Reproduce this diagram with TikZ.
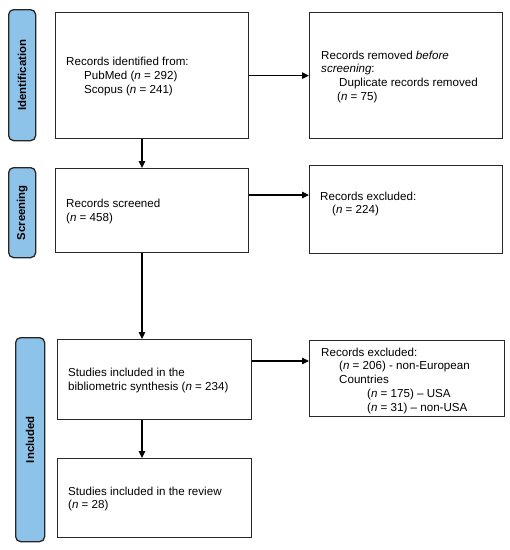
\documentclass[tikz,border=0pt]{standalone}
\usepackage{fontspec}
\setmainfont{Liberation Sans}
\usetikzlibrary{arrows.meta,calc}
\definecolor{sideblue}{RGB}{142,195,233}
\definecolor{boxline}{RGB}{40,40,40}
\begin{document}
\begin{tikzpicture}[x=1pt,y=-1pt,
  box/.style={draw=boxline,line width=1.2pt,fill=white,inner sep=0pt,anchor=north west},
  side/.style={draw=black!85,line width=1.3pt,fill=sideblue,rounded corners=5pt,inner sep=0pt,anchor=north west},
  sidetext/.style={rotate=90,font=\fontsize{11.4}{13}\selectfont\bfseries,inner sep=0pt},
  txt/.style={align=left,inner sep=0pt,anchor=west,font=\fontsize{11.6}{13.7}\selectfont},
  arr/.style={line width=1.1pt,draw=black,-{Triangle[length=7pt,width=6.5pt]}}]
\useasboundingbox (0,0) rectangle (510,550);
% side labels
\node[side,minimum width=27pt,minimum height=131pt] (s1) at (8,9) {};
\node[sidetext] (s1t) at (s1.center) {Identification};
\node[side,minimum width=27pt,minimum height=90pt] (s2) at (8,167) {};
\node[sidetext] (s2t) at (s2.center) {Screening};
\node[side,minimum width=29pt,minimum height=204pt] (s3) at (15,337) {};
\node[sidetext] (s3t) at (s3.center) {Included};
% boxes
\node[box,minimum width=193pt,minimum height=126pt] (b1) at (55,12) {};
\node[box,minimum width=193pt,minimum height=126pt] (b2) at (309,12) {};
\node[box,minimum width=193pt,minimum height=84pt] (b3) at (55,168) {};
\node[box,minimum width=193pt,minimum height=88pt] (b4) at (309,165) {};
\node[box,minimum width=194pt,minimum height=80pt] (b5) at (57,339) {};
\node[box,minimum width=195pt,minimum height=76pt] (b6) at (309,340) {};
\node[box,minimum width=194pt,minimum height=79pt] (b7) at (57,458) {};
% texts
\node[txt] (t1) at ($(b1.west)+(11,1)$) {Records identified from:\\\hspace*{18pt}PubMed (\textit{n} = 292)\\\hspace*{18pt}Scopus (\textit{n} = 241)};
\node[txt] (t2) at ($(b2.west)+(12,1)$) {Records removed \textit{before}\\\textit{screening}:\\\hspace*{18pt}Duplicate records removed\\\hspace*{16pt}(\textit{n} = 75)};
\node[txt] (t3) at ($(b3.west)+(11,1)$) {Records screened\\(\textit{n} = 458)};
\node[txt] (t4) at ($(b4.west)+(11,-5.5)$) {Records excluded:\\\hspace*{12pt}(\textit{n} = 224)};
\node[txt] (t5) at ($(b5.west)+(11,1)$) {Studies included in the\\bibliometric synthesis (\textit{n} = 234)};
\node[txt] (t6) at ($(b6.west)+(12,2)$) {Records excluded:\\\hspace*{18pt}(\textit{n} = 206) - non-European\\\hspace*{18pt}Countries\\\hspace*{46pt}(\textit{n} = 175) -- USA\\\hspace*{46pt}(\textit{n} = 31) -- non-USA};
\node[txt] (t7) at ($(b7.west)+(11,1)$) {Studies included in the review\\(\textit{n} = 28)};
% connectors
\coordinate (cx) at (142,0);
\coordinate (cy1) at (0,195);
\coordinate (cy2) at (0,361);
\draw[arr] (b1.east) -- (b2.west);
\draw[arr] (b1.south -| cx) -- (b3.north -| cx);
\draw[arr] (b3.east |- cy1) -- (b4.west |- cy1);
\draw[arr] (b3.south -| cx) -- (b5.north -| cx);
\draw[arr] (b5.east |- cy2) -- (b6.west |- cy2);
\draw[arr] (b5.south -| cx) -- (b7.north -| cx);
\end{tikzpicture}
\end{document}
